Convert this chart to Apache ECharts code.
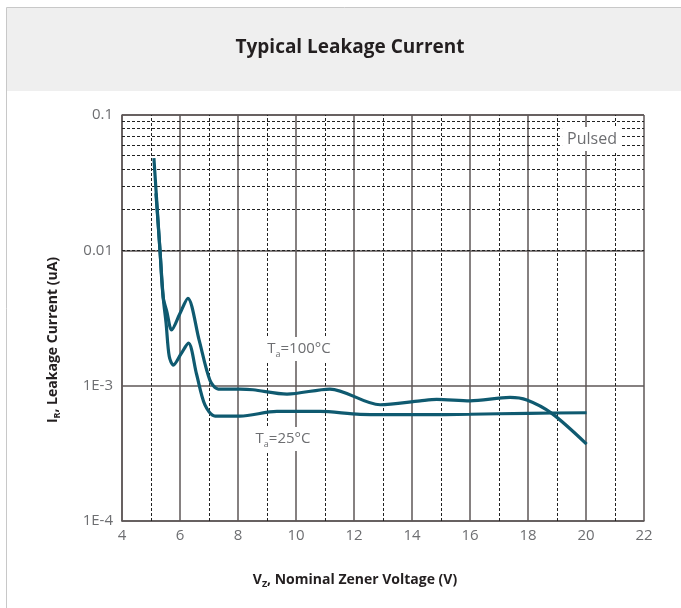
<!DOCTYPE html>
<html><head><meta charset="utf-8">
<script src="https://cdn.jsdelivr.net/npm/echarts@6/dist/echarts.min.js"></script>
<style>html,body{margin:0;padding:0;background:#fff}#c{width:681px;height:608px}</style>
</head><body><div id="c"></div>
<script>
// Ta = 100°C curve
const vz100 = [5.10, 5.31, 5.42, 5.55, 5.71, 5.99, 6.27, 6.66, 7.03, 7.32, 8.07, 8.52, 9.69, 11.17, 12.90, 14.28, 14.85, 16.00, 17.38, 17.96, 18.82, 20.02];
const ir100 = [0.048, 0.010, 0.0045, 0.0035, 0.00258, 0.00338, 0.00442, 0.00217, 0.00110, 0.000944, 0.000944, 0.000933, 0.000867, 0.000944, 0.000723, 0.000773, 0.000792, 0.000773, 0.000818, 0.000783, 0.000624, 0.000370];
// Ta = 25°C curve
const vz25 = [5.17, 5.31, 5.42, 5.52, 5.63, 5.77, 6.03, 6.29, 6.57, 6.86, 7.21, 8.07, 9.34, 10.83, 12.21, 14.28, 16.00, 18.00, 20.02];
const ir25 = [0.0264, 0.010, 0.0045, 0.0029, 0.00164, 0.00142, 0.00171, 0.00206, 0.00122, 0.00072, 0.000596, 0.000596, 0.000645, 0.000645, 0.000614, 0.000610, 0.000615, 0.000625, 0.000631];
// axis ticks
const xTickLabels = ['4','6','8','10','12','14','16','18','20','22'];
const xMinorValues = [5, 7, 9, 11, 13, 15, 17, 19, 21];
const yTickValues = [0.0001, 0.001, 0.01, 0.1];
const yTickLabels = ['1E-4', '1E-3', '0.01', '0.1'];
const yMinorMultipliers = [2, 3, 4, 5, 6, 7, 8, 9];
const yDecades = [0.0001, 0.001, 0.01];
const yMinorValues = [];
yDecades.forEach(d => yMinorMultipliers.forEach(m => yMinorValues.push(m * d)));

const chart = echarts.init(document.getElementById('c'));
const FONT = '"Open Sans", "Noto Sans", sans-serif';
const major = '#5e5757';
const tickColor = '#6d6e71';
const lineColor = '#0f5a70';
const dark = '#231f20';

function pair(xs, ys) { return xs.map((x, i) => [x, ys[i]]); }
const nameRich = {
  b: { fontFamily: FONT, fontSize: 14, fontWeight: 'bold', color: dark, lineHeight: 18 },
  s: { fontFamily: FONT, fontSize: 9, fontWeight: 'bold', color: dark, verticalAlign: 'bottom', lineHeight: 12, padding: [8, 0, 0, 0] }
};

chart.setOption({
  animation: false,
  grid: { left: 122, top: 115, right: 37, bottom: 87 },
  xAxis: {
    type: 'value', min: 4, max: 22, interval: 2,
    axisLine: { show: true, lineStyle: { color: major, width: 1.5 } },
    axisTick: { show: false },
    axisLabel: { color: tickColor, fontFamily: FONT, fontSize: 15, margin: 7,
      formatter: v => xTickLabels[Math.round((v - 4) / 2)] },
    splitLine: { show: true, lineStyle: { color: major, width: 1.5 } },
    name: '{b|V}{s|Z}{b|, Nominal Zener Voltage (V)}',
    nameLocation: 'middle', nameGap: 50,
    nameTextStyle: { rich: nameRich, padding: [0, 56, 0, 0] }
  },
  yAxis: {
    type: 'log', logBase: 10, min: 0.0001, max: 0.1,
    axisLine: { show: true, lineStyle: { color: major, width: 1.5 } },
    axisTick: { show: false },
    axisLabel: { color: tickColor, fontFamily: FONT, fontSize: 15, margin: 9,
      formatter: v => { const i = yTickValues.findIndex(t => Math.abs(Math.log10(t) - Math.log10(v)) < 0.01); return i >= 0 ? yTickLabels[i] : ''; } },
    splitLine: { show: true, lineStyle: { color: major, width: 1.5 } },
    name: '{b|I}{s|R}{b|, Leakage Current (uA)}',
    nameLocation: 'middle', nameGap: 60, nameRotate: 90,
    nameTextStyle: { rich: nameRich, padding: [0, 44, 0, 0] }
  },
  series: [
    {
      type: 'line', data: [], z: 1, silent: true,
      markLine: {
        silent: true, symbol: 'none', label: { show: false }, animation: false,
        lineStyle: { color: '#222', width: 1, type: [3, 2] },
        data: yMinorValues.map(v => ({ yAxis: v })).concat(xMinorValues.map(v => ({ xAxis: v })))
      }
    },
    {
      name: 'Ta=100°C', type: 'line', data: pair(vz100, ir100), z: 5,
      smooth: 0.3, showSymbol: false, lineStyle: { color: lineColor, width: 3.2 }
    },
    {
      name: 'Ta=25°C', type: 'line', data: pair(vz25, ir25), z: 5,
      smooth: 0.3, showSymbol: false, lineStyle: { color: lineColor, width: 3.2 }
    }
  ],
  graphic: [
    { type: 'rect', z: -100, silent: true, shape: { x: 6.5, y: 7.5, width: 700, height: 700 },
      style: { fill: '#ffffff', stroke: '#c8c8c8', lineWidth: 1 } },
    { type: 'rect', z: -99, silent: true, shape: { x: 7, y: 8, width: 680, height: 83 },
      style: { fill: '#efefef' } },
    { type: 'text', z: 100, silent: true, x: 350, y: 48,
      style: { text: 'Typical Leakage Current', font: 'bold 19px ' + FONT, fill: dark, align: 'center', verticalAlign: 'middle' } },
    { type: 'text', z: 100, silent: true, x: 592, y: 139,
      style: { text: 'Pulsed', font: '16px ' + FONT, fill: tickColor, align: 'center', verticalAlign: 'middle',
        backgroundColor: '#fff', padding: [4, 5, 4, 5] } },
    { type: 'text', z: 100, silent: true, x: 299, y: 349,
      style: { text: '{t|T}{s|a}{t|=100°C}', align: 'center', verticalAlign: 'middle', backgroundColor: '#fff', padding: [2, 4, 2, 4],
        rich: { t: { font: '15px ' + FONT, fill: tickColor, lineHeight: 20 },
                s: { font: '9px ' + FONT, fill: tickColor, verticalAlign: 'bottom', lineHeight: 12, padding: [10, 0, 0, 0] } } } },
    { type: 'text', z: 100, silent: true, x: 283, y: 439,
      style: { text: '{t|T}{s|a}{t|=25°C}', align: 'center', verticalAlign: 'middle', backgroundColor: '#fff', padding: [2, 4, 2, 4],
        rich: { t: { font: '15px ' + FONT, fill: tickColor, lineHeight: 20 },
                s: { font: '9px ' + FONT, fill: tickColor, verticalAlign: 'bottom', lineHeight: 12, padding: [10, 0, 0, 0] } } } }
  ]
});
</script></body></html>
